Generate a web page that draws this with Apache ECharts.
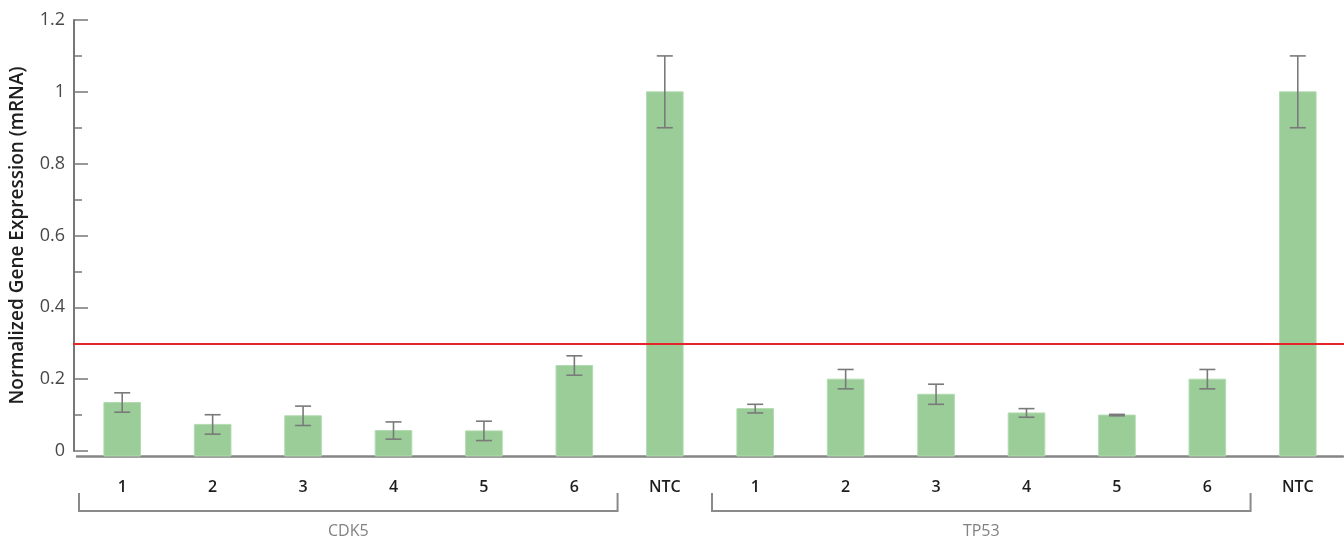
<!DOCTYPE html>
<html lang="en">
<head>
    <meta charset="UTF-8">
    <title>Normalized Gene Expression</title>
    <script src="https://cdn.jsdelivr.net/npm/echarts@6.0.0/dist/echarts.min.js"></script>
    <style>
        html, body { margin: 0; padding: 0; background: #ffffff; }
    </style>
</head>
<body>
<div id="chart1" style="width: 1344px;height:537px;"></div>

<script>
    // sample labels and groups
    var samples = ['1', '2', '3', '4', '5', '6', 'NTC'];
    var groups = ['CDK5', 'TP53'];

    // normalized expression values (mean) and error (+/-)
    var cdk5Values = [0.135, 0.074, 0.098, 0.057, 0.056, 0.238, 1.0];
    var cdk5Errors = [0.027, 0.027, 0.027, 0.024, 0.027, 0.027, 0.1];
    var tp53Values = [0.118, 0.2, 0.158, 0.106, 0.1, 0.2, 1.0];
    var tp53Errors = [0.012, 0.027, 0.028, 0.012, 0.002, 0.027, 0.1];

    var threshold = 0.3;
    var yTicks = [0, 0.2, 0.4, 0.6, 0.8, 1, 1.2];

    var axisGap = 5; // x axis line sits a few px below zero

    var categories = samples.concat(samples);
    var values = cdk5Values.concat(tp53Values);
    var errors = cdk5Errors.concat(tp53Errors);

    var barData = values.map(function (v, i) { return [i, v]; });
    var errData = values.map(function (v, i) { return [i, v - errors[i], v + errors[i]]; });
    // brackets: first and last sample index of each group (NTC excluded)
    var bracketData = groups.map(function (g, k) {
        var start = k * samples.length;
        return [start, start + samples.length - 2, g];
    });

    var myChart = echarts.init(document.getElementById('chart1'));
    var option = {
        backgroundColor: '#ffffff',
        animation: false,
        grid: {
            left: 76,
            right: 1,
            top: 20,
            bottom: 86
        },
        xAxis: {
            type: 'category',
            data: categories,
            offset: axisGap,
            axisLine: { show: true, onZero: false, lineStyle: { color: '#858585', width: 2.5 } },
            axisTick: { show: false },
            axisLabel: {
                color: '#1e1e1e',
                fontFamily: 'Open Sans',
                fontSize: 16,
                fontWeight: 600,
                margin: 23,
                interval: 0
            }
        },
        yAxis: {
            type: 'value',
            min: 0,
            max: yTicks[yTicks.length - 1],
            interval: 0.2,
            offset: 3,
            name: 'Normalized Gene Expression (mRNA)',
            nameLocation: 'middle',
            nameRotate: 90,
            nameGap: 47,
            nameTextStyle: {
                color: '#1e1e1e',
                fontFamily: 'Open Sans',
                fontSize: 19,
                fontWeight: 600
            },
            axisLine: { show: true, lineStyle: { color: '#777777', width: 2 } },
            axisTick: { show: true, inside: true, length: 14, lineStyle: { color: '#777777', width: 1.5 } },
            minorTick: { show: true, splitNumber: 2, length: 8, lineStyle: { color: '#777777', width: 1.5 } },
            splitLine: { show: false },
            axisLabel: {
                color: '#484848',
                fontFamily: 'Open Sans',
                fontSize: 18,
                margin: 9,
                formatter: function (v) { return String(+v.toFixed(1)); }
            }
        },
        series: [
            {
                name: 'bars',
                type: 'custom',
                data: barData,
                encode: { x: 0, y: 1 },
                renderItem: function (params, api) {
                    var top = api.coord([api.value(0), api.value(1)]);
                    var base = api.coord([api.value(0), 0]);
                    var w = api.size([1, 0])[0] * 0.405;
                    return {
                        type: 'rect',
                        shape: { x: top[0] - w / 2, y: top[1], width: w, height: base[1] + axisGap - top[1] },
                        style: { fill: '#9acd97', stroke: '#b3dbb0', lineWidth: 1 }
                    };
                },
                markLine: {
                    silent: true,
                    symbol: 'none',
                    label: { show: false },
                    lineStyle: { color: '#e3262b', width: 2, type: 'solid' },
                    data: [[{ x: 73, yAxis: threshold }, { x: 1344, yAxis: threshold }]]
                },
                z: 2
            },
            {
                name: 'errors',
                type: 'custom',
                data: errData,
                encode: { x: 0, y: [1, 2] },
                renderItem: function (params, api) {
                    var lo = api.coord([api.value(0), api.value(1)]);
                    var hi = api.coord([api.value(0), api.value(2)]);
                    var cap = 8;
                    var st = { stroke: '#7a7a7a', lineWidth: 1.6 };
                    return {
                        type: 'group',
                        children: [
                            { type: 'line', shape: { x1: lo[0], y1: lo[1], x2: hi[0], y2: hi[1] }, style: st },
                            { type: 'line', shape: { x1: hi[0] - cap, y1: hi[1], x2: hi[0] + cap, y2: hi[1] }, style: st },
                            { type: 'line', shape: { x1: lo[0] - cap, y1: lo[1], x2: lo[0] + cap, y2: lo[1] }, style: st }
                        ]
                    };
                },
                z: 3
            },
            {
                name: 'groups',
                type: 'custom',
                data: bracketData,
                clip: false,
                silent: true,
                renderItem: function (params, api) {
                    var band = api.size([1, 0])[0];
                    var a = api.coord([api.value(0), 0]);
                    var b = api.coord([api.value(1), 0]);
                    var x1 = a[0] - band / 2 + 2;
                    var x2 = b[0] + band / 2 - 2;
                    var yLine = a[1] + 60;
                    var yTop = yLine - 18;
                    var st = { stroke: '#8a8a8a', lineWidth: 2, fill: null };
                    return {
                        type: 'group',
                        children: [
                            { type: 'polyline', shape: { points: [[x1, yTop], [x1, yLine], [x2, yLine], [x2, yTop]] }, style: st },
                            {
                                type: 'text',
                                style: {
                                    x: (x1 + x2) / 2,
                                    y: yLine + 20,
                                    text: groups[params.dataIndex],
                                    fill: '#828282',
                                    font: '500 16px "Open Sans"',
                                    align: 'center',
                                    verticalAlign: 'middle'
                                }
                            }
                        ]
                    };
                }
            }
        ]
    };
    myChart.setOption(option);
</script>
</body>
</html>
